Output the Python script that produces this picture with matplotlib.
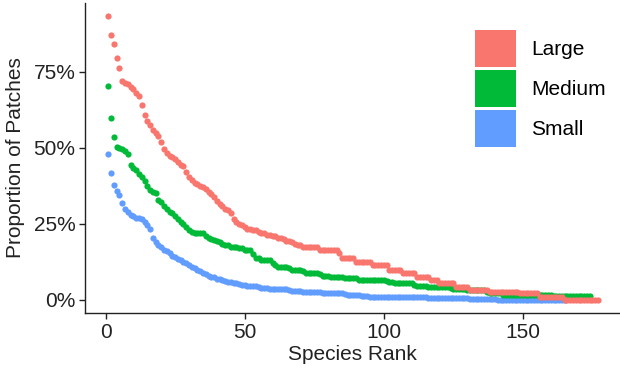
import matplotlib
matplotlib.use("Agg")
import matplotlib.pyplot as plt
from matplotlib.patches import Patch
from matplotlib.ticker import PercentFormatter

plt.rcParams['font.family'] = ['Liberation Sans', 'DejaVu Sans']

# proportion of patches (%) by species rank
large = [93.4, 87.3, 84.2, 79.5, 76.3, 72.0, 71.5, 71.0, 70.0, 69.5,
         68.0, 67.0, 64.0, 61.0, 59.0, 57.5, 56.0, 55.0, 54.0, 52.0,
         49.5, 48.5, 47.5, 47.0, 46.5, 45.5, 44.5, 44.0, 42.0, 40.5,
         39.5, 38.5, 38.0, 37.5, 37.0, 36.5, 35.5, 35.0, 34.0, 32.5,
         31.5, 31.0, 30.0, 29.5, 28.5, 26.5, 25.5, 25.0, 24.5, 24.0,
         23.5, 23.5, 23.0, 23.0, 22.5, 22.0, 22.0, 21.5, 21.5, 21.0,
         21.0, 20.5, 20.5, 20.0, 19.5, 19.5, 19.0, 18.5, 18.0, 18.0,
         17.5, 17.5, 17.5, 17.5, 17.5, 17.5, 16.5, 16.5, 16.5, 16.5,
         16.5, 16.5, 16.5, 15.5, 13.7, 13.7, 13.7, 13.7, 13.7, 12.6,
         12.6, 12.6, 12.6, 12.6, 12.6, 11.5, 11.5, 11.5, 11.5, 11.5,
         11.5, 9.9, 9.9, 9.9, 9.9, 9.9, 8.8, 8.8, 8.8, 8.8,
         8.8, 7.7, 7.7, 7.7, 7.7, 7.7, 6.6, 6.6, 6.6, 5.5,
         5.5, 5.5, 5.5, 5.5, 5.5, 4.4, 4.4, 4.4, 4.4, 4.4,
         3.3, 3.3, 3.3, 3.3, 3.3, 3.3, 3.3, 2.7, 2.7, 2.7,
         2.7, 2.7, 2.7, 2.7, 2.7, 2.7, 2.7, 2.7, 2.2, 2.2,
         2.2, 2.2, 2.2, 2.2, 2.2, 1.1, 1.1, 1.1, 1.1, 1.1,
         1.1, 1.1, 1.1, 1.1, 0.0, 0.0, 0.0, 0.0, 0.0, 0.0,
         0.0, 0.0, 0.0, 0.0, 0.0, 0.0, 0.0]

medium = [70.4, 60.0, 53.7, 50.4, 50.0, 49.5, 49.0, 48.0, 44.4, 43.5,
          42.8, 41.5, 40.5, 39.0, 37.5, 36.2, 35.5, 35.3, 33.0, 32.3,
          31.0, 30.0, 29.0, 28.5, 27.5, 26.5, 25.8, 25.0, 24.0, 23.0,
          22.5, 22.0, 22.0, 21.9, 21.9, 21.0, 20.5, 20.0, 19.8, 19.5,
          19.2, 18.5, 18.0, 18.0, 17.5, 17.5, 17.5, 17.0, 17.0, 16.5,
          16.4, 16.4, 15.0, 13.7, 13.7, 13.0, 13.0, 13.0, 13.0, 12.0,
          11.5, 11.0, 11.0, 10.7, 10.7, 10.5, 10.0, 9.9, 9.9, 9.9,
          9.5, 9.0, 8.8, 8.8, 8.8, 8.8, 8.5, 8.0, 8.0, 7.9,
          7.7, 7.7, 7.7, 7.7, 7.4, 7.1, 7.1, 7.1, 7.1, 7.1,
          6.6, 6.6, 6.6, 6.6, 6.6, 6.6, 6.6, 6.6, 6.6, 6.6,
          6.3, 6.0, 6.0, 5.5, 5.5, 5.5, 5.5, 5.5, 5.5, 5.5,
          5.0, 4.6, 4.6, 4.6, 4.6, 4.4, 4.4, 4.4, 4.4, 4.4,
          4.4, 4.4, 4.4, 4.0, 3.5, 3.5, 3.5, 3.5, 3.5, 3.3,
          3.3, 3.3, 3.3, 3.3, 3.3, 3.3, 2.7, 2.2, 2.2, 2.2,
          2.2, 2.2, 1.6, 1.6, 1.6, 1.6, 1.6, 1.6, 1.6, 1.6,
          1.6, 1.6, 1.6, 1.6, 1.6, 1.6, 1.6, 1.6, 1.6, 1.6,
          1.3, 1.3, 1.3, 1.3, 1.3, 1.3, 1.3, 1.3, 1.3, 1.3,
          1.3, 1.3, 1.3, 1.3]

small = [48.0, 41.9, 37.8, 36.0, 34.5, 32.0, 30.0, 29.0, 28.0, 27.5,
         27.0, 27.0, 26.5, 25.5, 24.5, 23.5, 20.3, 19.0, 18.0, 17.5,
         16.5, 16.0, 15.5, 14.5, 14.0, 13.5, 13.0, 12.5, 12.0, 11.5,
         11.0, 10.5, 10.0, 9.5, 9.0, 8.5, 8.0, 7.7, 7.4, 7.0,
         6.8, 6.5, 6.2, 6.0, 5.8, 5.6, 5.5, 5.3, 5.0, 4.8,
         4.6, 4.6, 4.6, 4.6, 4.2, 4.0, 3.8, 3.8, 3.6, 3.5,
         3.5, 3.5, 3.5, 3.5, 3.5, 3.2, 3.0, 3.0, 2.9, 2.8,
         2.7, 2.7, 2.7, 2.7, 2.7, 2.7, 2.5, 2.4, 2.3, 2.2,
         2.2, 2.2, 2.2, 2.2, 2.2, 1.8, 1.6, 1.6, 1.6, 1.6,
         1.5, 1.4, 1.3, 1.2, 1.1, 1.1, 1.1, 1.1, 1.1, 1.1,
         1.1, 1.1, 1.1, 1.1, 1.1, 1.0, 1.0, 1.0, 1.0, 1.0,
         0.9, 0.9, 0.9, 0.9, 0.9, 0.7, 0.7, 0.7, 0.7, 0.7,
         0.5, 0.5, 0.5, 0.5, 0.5, 0.5, 0.5, 0.5, 0.5, 0.5,
         0.4, 0.4, 0.4, 0.4, 0.4, 0.2, 0.2, 0.2, 0.2, 0.2,
         0.1, 0.1, 0.1, 0.1, 0.1, 0.1, 0.1, 0.1, 0.1, 0.1,
         0.0, 0.0, 0.0, 0.0, 0.0, 0.0, 0.0, 0.0, 0.0, 0.0,
         0.0, 0.0, 0.0, 0.0, 0.0]

labels = ['Large', 'Medium', 'Small']
colors = ['#F8766D', '#00BA38', '#619CFF']

fig = plt.figure(figsize=(6.2, 3.73), dpi=100)
ax = fig.add_axes([85 / 620, 60 / 373, 535 / 620, 310 / 373])

# small first so large sits on top, like the original
for vals, col in zip([small, medium, large], colors[::-1]):
    ranks = range(1, len(vals) + 1)
    ax.scatter(ranks, [v / 100 for v in vals], s=20, color=col, linewidths=0)

ax.set_xlim(-7.4, 184.9)
ax.set_ylim(-0.043, 0.977)
ax.set_xticks([0, 50, 100, 150])
ax.set_yticks([0, 0.25, 0.5, 0.75])
ax.yaxis.set_major_formatter(PercentFormatter(1.0, decimals=0))

for side in ['top', 'right']:
    ax.spines[side].set_visible(False)
for side in ['left', 'bottom']:
    ax.spines[side].set_color('#222222')
    ax.spines[side].set_linewidth(1.0)
ax.tick_params(length=4, width=1, color='#222222', labelsize=15,
               labelcolor='#222222', pad=3)

ax.set_xlabel('Species Rank', fontsize=15, color='#222222', labelpad=2)
ax.set_ylabel('Proportion of Patches', fontsize=15, color='#222222', labelpad=6)

handles = [Patch(facecolor=c, edgecolor='none') for c in colors]
ax.legend(handles, labels, loc='upper left', bbox_to_anchor=(475 / 620, 1 - 30 / 373),
          bbox_transform=fig.transFigure, frameon=False, fontsize=15,
          handlelength=1.95, handleheight=2.35, labelspacing=0.15,
          handletextpad=0.75, borderpad=0, borderaxespad=0)

fig.savefig('out.png', dpi=100)
